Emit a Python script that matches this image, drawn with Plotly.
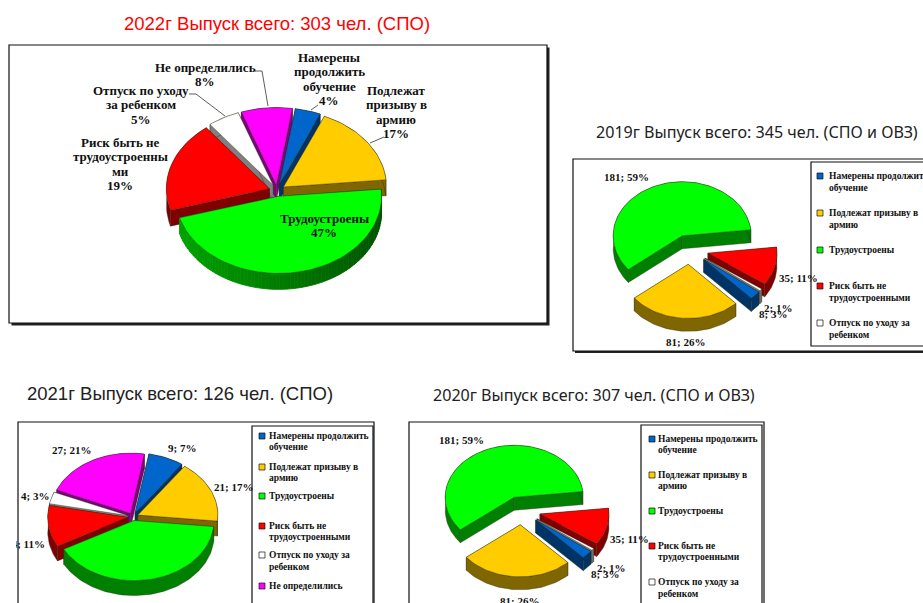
import math
import plotly.graph_objects as go

# ---------- data ----------
CATEGORIES = ["Намерены продолжить обучение", "Подлежат призыву в армию", "Трудоустроены",
              "Риск быть не трудоустроенными", "Отпуск по уходу за ребенком", "Не определились"]
TITLE_2022 = "2022г Выпуск всего: 303 чел. (СПО)"
TITLE_2019 = "2019г Выпуск всего: 345 чел. (СПО и ОВЗ)"
TITLE_2021 = "2021г Выпуск всего: 126 чел. (СПО)"
TITLE_2020 = "2020г Выпуск всего: 307 чел. (СПО и ОВЗ)"
VALUES_2022 = [4, 17, 47, 19, 5, 8]
VALUES_2019 = [8, 81, 181, 35, 2]
VALUES_2021 = [9, 21, 51, 14, 4, 27]
VALUES_2020 = [8, 81, 181, 35, 2]
LEGEND_LINES = [["Намерены продолжить", "обучение"], ["Подлежат призыву в", "армию"], ["Трудоустроены"],
                ["Риск быть не", "трудоустроенными"], ["Отпуск по уходу за", "ребенком"], ["Не определились"]]

# ---------- style ----------
TOP = ["#0066cc", "#ffcc00", "#00ff00", "#ff0000", "#ffffff", "#ff00ff"]
SIDE = ["#003366", "#806600", "#008000", "#800000", "#808080", "#800080"]
SERIF = "Liberation Serif"
INK = "#101010"

fig = go.Figure()
shapes, notes = [], []


def text(x, y, s, size=11, color=INK, family=SERIF, bold=True, **kw):
    notes.append(dict(x=x, y=y, xref="x", yref="y", text=f"<b>{s}</b>" if bold else s, showarrow=False,
                      font=dict(size=size, color=color, family=family), xanchor=kw.pop("xanchor", "center"),
                      yanchor="middle", borderpad=0, **kw))


def box(x0, y0, x1, y1, shadow=2.0, lw=1.2):
    if shadow:
        shapes.append(dict(type="rect", xref="x", yref="y", x0=x0 + shadow, y0=y0 + shadow, x1=x1 + shadow,
                           y1=y1 + shadow, fillcolor="#222222", line_width=0, layer="below"))
    shapes.append(dict(type="rect", xref="x", yref="y", x0=x0, y0=y0, x1=x1, y1=y1, fillcolor="white",
                       line=dict(color="#111111", width=lw), layer="below"))


def poly(xs, ys, fill, line=None, lw=0.6):
    fig.add_trace(go.Scatter(x=xs, y=ys, mode="lines", fill="toself", fillcolor=fill,
                             line=dict(color=line or fill, width=lw), hoverinfo="skip", showlegend=False))


def mix(a, b, f):
    return "rgb({},{},{})".format(*[round(a[i] + (b[i] - a[i]) * f) for i in range(3)])


def pie3d(values, cx, cy, rx, ry, depth, start, explode, gradient=None):
    total = sum(values)
    t, items = start, []
    for i, v in enumerate(values):
        span = 360.0 * v / total
        mid = math.radians(t + span / 2)
        ox = cx + explode * math.sin(mid)
        oy = cy - explode * math.cos(mid) * ry / rx
        items.append((oy, i, t, span, ox))
        t += span
    for oy, i, a, span, ox in sorted(items):
        n = max(4, int(span / 2))
        angs = [math.radians(a + span * k / n) for k in range(n + 1)]
        ax = [ox + rx * math.sin(q) for q in angs]
        ay = [oy - ry * math.cos(q) for q in angs]
        edge = "rgba(40,40,20,0.65)"
        # radial walls
        for ex, ey in ((ax[0], ay[0]), (ax[-1], ay[-1])):
            poly([ox, ex, ex, ox, ox], [oy, ey, ey + depth, oy + depth, oy], SIDE[i], edge)
        # rim
        if gradient and i == gradient[0]:
            for k in range(n):
                f = (math.sin(angs[k]) + 1) / 2
                col = mix(gradient[1], gradient[2], f)
                poly([ax[k], ax[k + 1], ax[k + 1], ax[k], ax[k]],
                     [ay[k], ay[k + 1], ay[k + 1] + depth, ay[k] + depth, ay[k]], col, col, 0.8)
        else:
            poly(ax + ax[::-1] + ax[:1], ay + [y + depth for y in ay[::-1]] + ay[:1], SIDE[i], edge)
        # top
        poly([ox] + ax + [ox], [oy] + ay + [oy], TOP[i], edge)


def legend(x_sw, x_txt, rows, count):
    for i in range(count):
        ys = rows[i]
        shapes.append(dict(type="rect", xref="x", yref="y", x0=x_sw - 3, x1=x_sw + 3, y0=ys[0] - 3, y1=ys[0] + 3,
                           fillcolor=TOP[i], line=dict(color="#111111", width=0.7), layer="above"))
        for line, y in zip(LEGEND_LINES[i], ys):
            text(x_txt, y, line, size=9.5, xanchor="left")


# ---------- 2022 ----------
text(276.5, 23, TITLE_2022, size=18.5, color="#ff0000", family="Liberation Sans", bold=False)
box(9, 45, 547, 323, shadow=2.5)
pie3d(VALUES_2022, 277, 190.5, 103, 77, 16, 9, 8, gradient=(2, (0, 165, 0), (0, 85, 0)))
for x, lines, ys in [
    (329, ["Намерены", "продолжить", "обучение", "4%"], [57, 71, 86, 100]),
    (396, ["Подлежат", "призыву в", "армию", "17%"], [90, 104, 119, 133]),
    (324, ["Трудоустроены", "47%"], [218, 232]),
    (120, ["Риск быть не", "трудоустроенны", "ми", "19%"], [142, 156, 171, 185]),
    (141, ["Отпуск по уходу", "за ребенком", "5%"], [90, 104, 119]),
    (205, ["Не определились", "8%"], [67, 81]),
]:
    for s, y in zip(lines, ys):
        text(x, y, s, size=13)
for xs, ys in [([255, 262, 268], [71, 71, 106]), ([189, 196, 225], [94, 94, 116]),
               ([311, 318], [110, 105]), ([370, 384], [143, 137])]:
    fig.add_trace(go.Scatter(x=xs, y=ys, mode="lines", line=dict(color="#333333", width=0.8),
                             hoverinfo="skip", showlegend=False))

# ---------- 2019 ----------
text(756.5, 132, TITLE_2019, size=16.1, color="#222222", family="Noto Sans", bold=False)
box(573, 159, 935, 351)
box(811, 162, 935, 346, shadow=0)
pie3d(VALUES_2019, 689.5, 249.5, 69, 54, 13, 127, 19)
legend(820, 828, [[176, 188], [213, 225], [250], [286, 298], [323, 335]], 5)
for x, y, s in [(626, 177, "181; 59%"), (685, 342, "81; 26%"), (798, 278, "35; 11%"),
                (778, 308, "2; 1%"), (773, 314, "8; 3%")]:
    text(x, y, s)

# ---------- 2021 ----------
text(179.5, 393, TITLE_2021, size=18.5, color="#222222", family="Liberation Sans", bold=False)
box(18, 422, 374, 640, shadow=0)
box(252, 426, 373, 640, shadow=0)
pie3d(VALUES_2021, 133, 516.7, 80, 60, 15, 10, 5.3)
legend(262, 268, [[436, 447], [467, 478], [496], [526, 537], [555, 567], [586]], 6)
for x, y, s in [(182, 448, "9; 7%"), (233, 487, "21; 17%"), (71, 450, "27; 21%"), (35, 496, "4; 3%"),
                (164, 604, "51; 40%")]:
    text(x, y, s)
text(30.5, 544, "14; 11%", width=29, align="right")

# ---------- 2020 ----------
text(594, 395, TITLE_2020, size=16.1, color="#222222", family="Noto Sans", bold=False)
box(409, 422, 764, 640, shadow=0)
box(641, 425, 762, 640, shadow=0)
pie3d(VALUES_2020, 521.5, 510.5, 69, 52, 13, 127, 19)
legend(652, 657, [[439, 450], [475, 486], [511], [546, 557], [582, 594]], 5)
for x, y, s in [(461, 440, "181; 59%"), (519, 601, "81; 26%"), (629, 539, "35; 11%"),
                (611, 568, "2; 1%"), (605, 574, "8; 3%")]:
    text(x, y, s)

fig.update_layout(width=923, height=603, margin=dict(l=0, r=0, t=0, b=0), paper_bgcolor="white",
                  plot_bgcolor="white", showlegend=False, shapes=shapes, annotations=notes,
                  xaxis=dict(range=[0, 923], visible=False, fixedrange=True),
                  yaxis=dict(range=[603, 0], visible=False, fixedrange=True))
fig.write_html("out.html", post_script="document.body.style.margin='0';document.body.style.overflow='hidden';",
               config=dict(displayModeBar=False))
